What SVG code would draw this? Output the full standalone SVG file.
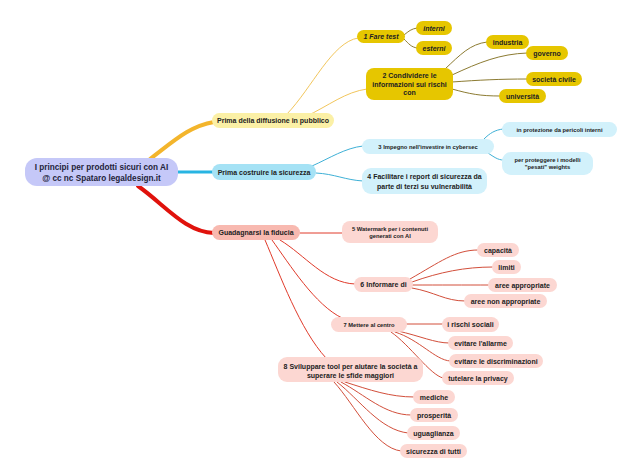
<svg xmlns="http://www.w3.org/2000/svg" width="640" height="473" viewBox="0 0 640 473">
<style>
text{font-family:"Liberation Sans",Arial,sans-serif;font-weight:bold;fill:#222;text-anchor:middle;font-size:7px}
.s{font-size:5.8px}
.it{font-style:italic}
.root rect{fill:#c5c8f8}
.root text{font-size:8.2px;fill:#23233a}
.y1 rect{fill:#fbf0a6}
.y2 rect{fill:#e6c600}
.c1 rect{fill:#a5e2f5}
.c2 rect{fill:#d2f1fb}
.r1 rect{fill:#f8b9b0}
.r2 rect{fill:#fcd7d2}
#connectors path{fill:none;stroke-linecap:round}
.ty{stroke:#f3b52c;stroke-width:4}
.tc{stroke:#27b4e2;stroke-width:3}
.tr{stroke:#e0120c;stroke-width:4}
.ly{stroke:#f2c65c;stroke-width:1}
.ol{stroke:#8c7b32;stroke-width:1}
.lc{stroke:#3eb0d6;stroke-width:1}
.lr{stroke:#e03a2a;stroke-width:1}
.lr2{stroke:#d24e3a;stroke-width:1}
</style>
<rect width="640" height="473" fill="#fff"/>
<g id="connectors">
<path class="ty" d="M150,159 C175,140 190,126 214,122"/>
<path class="tc" d="M178,172 L213,172"/>
<path class="tr" d="M138,186 C165,205 185,232 214,233"/>
<path class="ly" d="M287,114 C312,88 332,42 358,38"/>
<path class="ly" d="M305,117 C330,105 345,92 367,89"/>
<path class="ol" d="M404,35 C409,31 411,29 417,28"/>
<path class="ol" d="M404,39 C409,44 411,47 417,48"/>
<path class="ol" d="M445,69 C460,55 470,44 487,42"/>
<path class="ol" d="M452,75 C480,62 500,54 527,53"/>
<path class="ol" d="M452,82 C480,80 500,79 527,79"/>
<path class="ol" d="M452,89 C470,94 480,96 500,96"/>
<path class="lc" d="M312,166 C330,158 345,148 363,146"/>
<path class="lc" d="M316,173 C335,174 345,180 363,181"/>
<path class="lc" d="M484,139 C490,133 495,130 503,129"/>
<path class="lc" d="M488,153 C494,157 498,160 503,160"/>
<path class="lr" d="M300,233 L343,233"/>
<path class="lr" d="M280,240 C305,255 325,283 355,284"/>
<path class="lr" d="M272,240 C290,265 315,305 342,318"/>
<path class="lr" d="M265,240 C280,275 300,330 326,358"/>
<path class="lr2" d="M410,279 C440,262 455,250 478,250"/>
<path class="lr2" d="M412,282 C440,272 465,267 493,267"/>
<path class="lr2" d="M412,285 C440,285 465,285 489,285"/>
<path class="lr2" d="M412,288 C435,292 445,301 465,301"/>
<path class="lr2" d="M406,324 L443,324"/>
<path class="lr2" d="M398,331 C420,336 435,343 449,343"/>
<path class="lr2" d="M395,332 C420,340 435,360 450,361"/>
<path class="lr2" d="M391,332 C410,345 430,375 443,378"/>
<path class="lr2" d="M345,382 C370,390 390,397 414,397"/>
<path class="lr2" d="M341,382 C365,395 385,415 411,415"/>
<path class="lr2" d="M337,382 C360,400 380,430 408,433"/>
<path class="lr2" d="M334,382 C355,405 375,448 401,451"/>
</g>
<g id="root" class="root"><rect x="25" y="158" width="153" height="28" rx="12"/><text x="101.5" y="170">I principi per prodotti sicuri con AI</text><text x="101.5" y="180.5">@ cc nc Spataro legaldesign.it</text></g>
<g id="b1" class="y1"><rect x="212" y="113" width="122" height="15" rx="7.5"/><text x="273" y="123">Prima della diffusione in pubblico</text></g>
<g id="b2" class="c1"><rect x="212" y="164" width="104" height="16" rx="8"/><text x="264" y="174.5">Prima costruire la sicurezza</text></g>
<g id="b3" class="r1"><rect x="212" y="225" width="88" height="15" rx="7.5"/><text x="256" y="235">Guadagnarsi la fiducia</text></g>
<g id="n1" class="y2"><rect x="357" y="30" width="48" height="13" rx="6.5"/><text class="it" x="381" y="39">1 Fare test</text></g>
<g id="interni" class="y2"><rect x="416" y="21" width="36" height="14" rx="7"/><text class="it" x="434" y="30.5">interni</text></g>
<g id="esterni" class="y2"><rect x="416" y="41" width="36" height="14" rx="7"/><text class="it" x="434" y="50.5">esterni</text></g>
<g id="n2" class="y2"><rect x="366" y="68" width="87" height="32" rx="8"/><text x="409.5" y="78">2 Condividere le</text><text x="409.5" y="86.5">informazioni sui rischi</text><text x="409.5" y="95">con</text></g>
<g id="industria" class="y2"><rect x="486" y="35" width="43" height="14" rx="7"/><text x="507.5" y="44.5">industria</text></g>
<g id="governo" class="y2"><rect x="526" y="46" width="42" height="14" rx="7"/><text x="547" y="55.5">governo</text></g>
<g id="societa" class="y2"><rect x="526" y="72" width="56" height="14" rx="7"/><text x="554" y="81.5">società civile</text></g>
<g id="universita" class="y2"><rect x="499" y="89" width="47" height="14" rx="7"/><text x="522.5" y="98.5">università</text></g>
<g id="n3" class="c2"><rect x="362" y="139" width="132" height="15" rx="7.5"/><text class="s" x="428" y="148.5">3 Impegno nell'investire in cybersec</text></g>
<g id="n4" class="c2"><rect x="362" y="168" width="125" height="26" rx="9"/><text x="424.5" y="179.2">4 Facilitare i report di sicurezza da</text><text x="424.5" y="188.5">parte di terzi su vulnerabilità</text></g>
<g id="protezione" class="c2"><rect x="502" y="122" width="115" height="15" rx="7.5"/><text class="s" x="559.5" y="131.5">in protezione da pericoli interni</text></g>
<g id="modelli" class="c2"><rect x="502" y="152" width="91" height="23" rx="9"/><text class="s" x="547.5" y="162">per proteggere i modelli</text><text class="s" x="547.5" y="169.3">"pesati" weights</text></g>
<g id="n5" class="r2"><rect x="342" y="221" width="96" height="22" rx="8"/><text class="s" x="390" y="231.3">5 Watermark per i contenuti</text><text class="s" x="390" y="237.7">generati con AI</text></g>
<g id="n6" class="r2"><rect x="354" y="277" width="59" height="15" rx="7.5"/><text x="383.5" y="287">6 Informare di</text></g>
<g id="capacita" class="r2"><rect x="477" y="243" width="42" height="14" rx="7"/><text x="498" y="252.5">capacità</text></g>
<g id="limiti" class="r2"><rect x="492" y="260" width="29" height="14" rx="7"/><text x="506.5" y="269.5">limiti</text></g>
<g id="appropriate" class="r2"><rect x="488" y="278" width="69" height="14" rx="7"/><text x="522.5" y="287.5">aree appropriate</text></g>
<g id="nonappropriate" class="r2"><rect x="464" y="294" width="83" height="14" rx="7"/><text x="505.5" y="303.5">aree non appropriate</text></g>
<g id="n7" class="r2"><rect x="331" y="317" width="76" height="15" rx="7.5"/><text class="s" x="369" y="326.5">7 Mettere al centro</text></g>
<g id="rischi" class="r2"><rect x="442" y="317" width="57" height="15" rx="7.5"/><text x="470.5" y="327">i rischi sociali</text></g>
<g id="allarme" class="r2"><rect x="448" y="336" width="65" height="14" rx="7"/><text x="480.5" y="345.5">evitare l'allarme</text></g>
<g id="discriminazioni" class="r2"><rect x="449" y="354" width="94" height="14" rx="7"/><text x="496" y="363.5">evitare le discriminazioni</text></g>
<g id="privacy" class="r2"><rect x="442" y="371" width="72" height="14" rx="7"/><text x="478" y="380.5">tutelare la privacy</text></g>
<g id="n8" class="r2"><rect x="278" y="357" width="145" height="25" rx="9"/><text x="350.5" y="368.5">8 Sviluppare tool per aiutare la società a</text><text x="350.5" y="377.5">superare le sfide maggiori</text></g>
<g id="mediche" class="r2"><rect x="413" y="390" width="42" height="14" rx="7"/><text x="434" y="399.5">mediche</text></g>
<g id="prosperita" class="r2"><rect x="410" y="408" width="48" height="14" rx="7"/><text x="434" y="417.5">prosperità</text></g>
<g id="uguaglianza" class="r2"><rect x="407" y="426" width="53" height="14" rx="7"/><text x="433.5" y="435.5">uguaglianza</text></g>
<g id="sicurezza" class="r2"><rect x="400" y="444" width="67" height="14" rx="7"/><text x="433.5" y="453.5">sicurezza di tutti</text></g>
</svg>
